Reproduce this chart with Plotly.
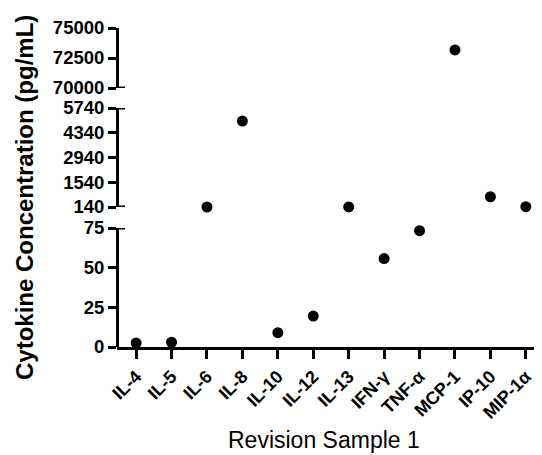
import plotly.graph_objects as go

categories = ["IL-4", "IL-5", "IL-6", "IL-8", "IL-10", "IL-12", "IL-13",
              "IFN-γ", "TNF-α", "MCP-1", "IP-10", "MIP-1α"]
values = [2.5, 3, 140, 5000, 9, 19.5, 145, 55.7, 73.3, 73170, 720, 155]

low_ticks = [0, 25, 50, 75]
mid_ticks = [140, 1540, 2940, 4340, 5740]
high_ticks = [70000, 72500, 75000]

low_range = [0, 75]
mid_range = [140, 5740]
high_range = [70000, 75000]

FONT = "Liberation Sans"
W, H = 542, 455
OFF = 8  # browser body margin offsets the figure
L, R, T, B = 117 - OFF, 10, 28 - OFF, 455 - 347 + OFF
plot_w = W - L - R
plot_h = H - T - B


def px_y(py):
    """reference pixel row -> paper fraction"""
    return (T + plot_h - (py - OFF)) / plot_h


def px_x(px):
    return ((px - OFF) - L) / plot_w


def seg(v, lo, hi):
    return v if lo < v <= hi else None


low_vals = [v if v <= low_range[1] else None for v in values]
mid_vals = [seg(v, low_range[1], mid_range[1]) for v in values]
high_vals = [v if v > mid_range[1] else None for v in values]

fig = go.Figure()
marker = dict(color="black", size=11)
for vals, ya in [(low_vals, "y"), (mid_vals, "y2"), (high_vals, "y3")]:
    fig.add_trace(go.Scatter(x=categories, y=vals, mode="markers", marker=marker,
                             yaxis=ya, cliponaxis=False, showlegend=False,
                             hoverinfo="x+y"))


def dom(px_top, px_bot):
    return [px_y(px_bot), px_y(px_top)]


axis_common = dict(showline=True, linecolor="black", linewidth=3, ticks="outside",
                   ticklen=8, tickwidth=3, tickcolor="black", showgrid=False,
                   zeroline=False, tickmode="array", anchor="free", position=0,
                   tickfont=dict(family=FONT, size=18.5, color="black", weight="bold"))

fig.update_layout(
    width=W, height=H, margin=dict(l=L, r=R, t=T, b=B, autoexpand=False),
    paper_bgcolor="white", plot_bgcolor="white",
    xaxis=dict(type="category", range=[-0.54, 11.4], showline=True, linecolor="black",
               linewidth=3, ticks="outside", ticklen=9, tickwidth=3, tickcolor="black",
               showgrid=False, zeroline=False, tickangle=-45, anchor="y",
               tickfont=dict(family=FONT, size=18, color="black", weight="bold")),
    yaxis=dict(domain=dom(228, 347), range=low_range, tickvals=low_ticks,
               ticktext=[str(t) for t in low_ticks], **axis_common),
    yaxis2=dict(domain=dom(108, 207), range=mid_range, tickvals=mid_ticks,
                ticktext=[str(t) for t in mid_ticks], **axis_common),
    yaxis3=dict(domain=dom(28, 88), range=high_range, tickvals=high_ticks,
                ticktext=[str(t) for t in high_ticks], **axis_common),
    annotations=[
        dict(text="Cytokine Concentration (pg/mL)", textangle=-90, xref="paper", yref="paper",
             x=px_x(24), y=px_y(198), showarrow=False,
             xanchor="center", yanchor="middle",
             font=dict(family=FONT, size=24, color="black", weight="bold")),
        dict(text="Revision Sample 1", xref="paper", yref="paper",
             x=px_x(324), y=px_y(440), showarrow=False,
             xanchor="center", yanchor="middle",
             font=dict(family=FONT, size=23, color="black")),
    ],
)

# break caps: short stubs to the right of the axis at each segment end
shapes = []
for ya, rng in [("y", low_range), ("y2", mid_range), ("y3", high_range)]:
    for v, keep in [(rng[0], ya != "y"), (rng[1], ya != "y3")]:
        if keep:
            shapes.append(dict(type="line", xref="paper", yref=ya, x0=0, x1=8 / plot_w,
                               y0=v, y1=v, line=dict(color="black", width=3)))
fig.update_layout(shapes=shapes)

fig.write_html("out.html")
